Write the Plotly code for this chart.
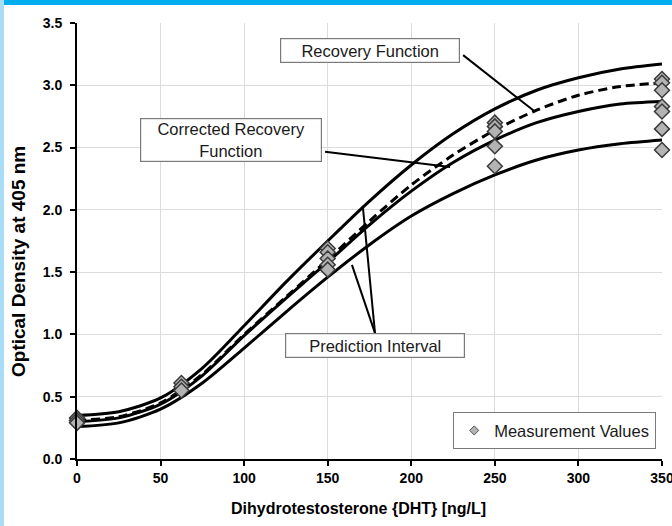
import plotly.graph_objects as go

# ---- data ----
curve_x = [0, 25, 50, 75, 100, 125, 150, 175, 200, 225, 250, 275, 300, 325, 350]
pi_upper = [0.35, 0.38, 0.49, 0.73, 1.07, 1.42, 1.75, 2.07, 2.36, 2.61, 2.81, 2.96, 3.06, 3.13, 3.17]
recovery = [0.31, 0.34, 0.45, 0.68, 1.00, 1.30, 1.60, 1.91, 2.20, 2.44, 2.64, 2.80, 2.92, 2.99, 3.02]
corrected = [0.30, 0.33, 0.44, 0.67, 0.99, 1.29, 1.58, 1.88, 2.15, 2.38, 2.56, 2.70, 2.79, 2.85, 2.87]
pi_lower = [0.26, 0.29, 0.40, 0.61, 0.89, 1.18, 1.46, 1.72, 1.95, 2.13, 2.28, 2.40, 2.48, 2.53, 2.56]

meas_x = [0, 0, 0,
          62.5, 62.5, 62.5,
          150, 150, 150, 150, 150,
          250, 250, 250, 250, 250,
          350, 350, 350, 350, 350, 350, 350]
meas_y = [0.33, 0.31, 0.29,
          0.61, 0.58, 0.55,
          1.69, 1.66, 1.61, 1.56, 1.52,
          2.70, 2.67, 2.63, 2.51, 2.35,
          3.05, 3.02, 2.96, 2.83, 2.79, 2.65, 2.48]

x_ticks = [0, 50, 100, 150, 200, 250, 300, 350]
y_ticks = [0.0, 0.5, 1.0, 1.5, 2.0, 2.5, 3.0, 3.5]
y_tick_text = ["0.0", "0.5", "1.0", "1.5", "2.0", "2.5", "3.0", "3.5"]

W, H = 672, 526
ML, MR, MT, MB = 77, 10, 23, 67
FONT = "Liberation Sans, Arial, sans-serif"

pw = W - ML - MR
ph = H - MT - MB


def px_x(p):
    return (p - ML) / pw


def px_y(p):
    return (H - MB - p) / ph


fig = go.Figure()

line_style = dict(color="black", width=3, shape="spline", smoothing=0.8)
for ys in (pi_upper, pi_lower, corrected):
    fig.add_trace(go.Scatter(x=curve_x, y=ys, mode="lines", line=line_style,
                             showlegend=False, hoverinfo="skip", cliponaxis=False))
fig.add_trace(go.Scatter(x=curve_x, y=recovery, mode="lines",
                         line=dict(color="black", width=3, dash="9px,5px",
                                   shape="spline", smoothing=0.8),
                         showlegend=False, hoverinfo="skip", cliponaxis=False))
fig.add_trace(go.Scatter(x=meas_x, y=meas_y, mode="markers", name="Measurement Values",
                         marker=dict(symbol="diamond", size=11.5, color="#b3b3b3",
                                     line=dict(color="#3a3a3a", width=1.5)),
                         showlegend=False, cliponaxis=False))
# legend entry (smaller symbol, as in the reference legend)
fig.add_trace(go.Scatter(x=[None], y=[None], mode="markers", name="Measurement Values",
                         marker=dict(symbol="diamond", size=7, color="#b3b3b3",
                                     line=dict(color="#555555", width=1)),
                         showlegend=True))

# connector lines from labels to curves
connectors = [
    ((231.0, 3.242), (274.1, 2.787)),
    ((148.4, 2.466), (223.2, 2.344)),
    ((178.3, 1.010), (171.1, 2.015)),
    ((178.3, 1.010), (164.5, 1.558)),
]
shapes = []
for (x0, y0), (x1, y1) in connectors:
    shapes.append(dict(type="line", xref="x", yref="y", x0=x0, y0=y0, x1=x1, y1=y1,
                       line=dict(color="black", width=2)))

# page decoration bars
shapes.append(dict(type="rect", xref="paper", yref="paper",
                   x0=px_x(0), x1=px_x(W), y0=px_y(5), y1=px_y(0),
                   fillcolor="#00aeef", line=dict(width=0), layer="above"))
shapes.append(dict(type="rect", xref="paper", yref="paper",
                   x0=px_x(0), x1=px_x(4), y0=px_y(H), y1=px_y(0),
                   fillcolor="#a9dcf7", line=dict(width=0), layer="above"))

box = dict(showarrow=False, font=dict(family=FONT, size=16.5, color="#1a1a1a"),
           bgcolor="white", bordercolor="#7a7a7a", borderwidth=1.2, xref="x", yref="y")
annotations = [
    dict(x=175.3, y=3.278, text="Recovery Function", width=176, height=21, **box),
    dict(x=92.1, y=2.563, text="Corrected Recovery<br>Function", width=178, height=40, **box),
    dict(x=178.3, y=0.913, text="Prediction Interval", width=176, height=21, **box),
    # axis titles
    dict(xref="paper", yref="paper", x=px_x(18), y=px_y(262), textangle=-90,
         text="<b>Optical Density at 405 nm</b>", showarrow=False,
         xanchor="center", yanchor="middle",
         font=dict(family=FONT, size=19, color="black")),
    dict(xref="paper", yref="paper", x=px_x(358), y=px_y(508),
         text="<b>Dihydrotestosterone {DHT} [ng/L]</b>", showarrow=False,
         xanchor="center", yanchor="middle",
         font=dict(family=FONT, size=16, color="black")),
]

fig.update_layout(
    width=W, height=H,
    margin=dict(l=ML, r=MR, t=MT, b=MB, autoexpand=False),
    paper_bgcolor="white", plot_bgcolor="white",
    font=dict(family=FONT, color="black"),
    shapes=shapes, annotations=annotations,
    legend=dict(x=px_x(453), y=px_y(449), xanchor="left", yanchor="bottom",
                bgcolor="white", bordercolor="#7a7a7a", borderwidth=1.2,
                font=dict(family=FONT, size=16.5, color="#1a1a1a"),
                itemwidth=30),
    xaxis=dict(range=[0, 350], tickvals=x_ticks, ticktext=[str(v) for v in x_ticks],
               showgrid=True, gridcolor="#dcdcdc", gridwidth=1,
               showline=True, linecolor="black", linewidth=2,
               ticks="outside", ticklen=5, tickcolor="black", tickwidth=1.5,
               ticklabeloverflow="allow", automargin=False,
               tickfont=dict(family=FONT, size=14, color="black", weight="bold"),
               zeroline=False),
    yaxis=dict(range=[0, 3.5], tickvals=y_ticks, ticktext=y_tick_text,
               showgrid=True, gridcolor="#dcdcdc", gridwidth=1,
               showline=True, linecolor="black", linewidth=2,
               ticks="outside", ticklen=5, tickcolor="black", tickwidth=1.5,
               ticklabelstandoff=5, ticklabeloverflow="allow", automargin=False,
               tickfont=dict(family=FONT, size=14, color="black", weight="bold"),
               zeroline=False),
)

fig.write_html("out.html", post_script="document.body.style.margin='0';",
               config={"displayModeBar": False})
